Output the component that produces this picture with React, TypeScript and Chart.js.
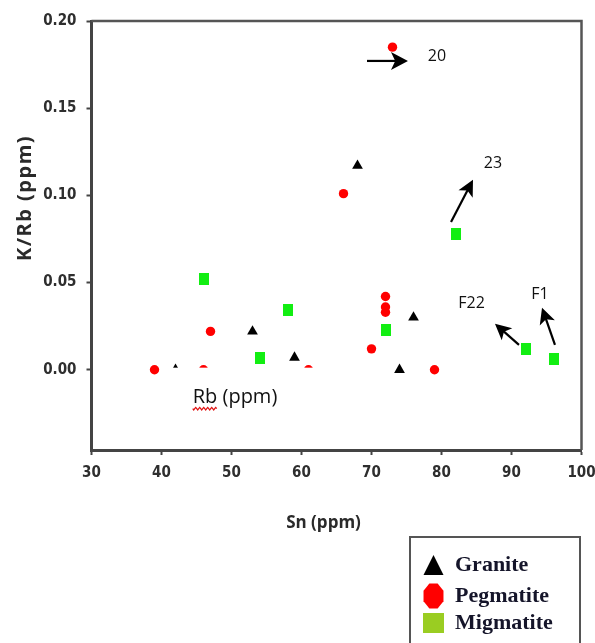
import React, { useEffect, useRef } from "react";
import { Chart, registerables } from "chart.js";

Chart.register(...registerables);

// ---- data (Sn ppm vs K/Rb) ----
const graniteSn = [42, 53, 59, 68, 74, 76];
const graniteKRb = [0.0, 0.022, 0.007, 0.117, 0.0, 0.03];

const pegmatiteSn = [39, 46, 47, 61, 66, 70, 72, 72, 72, 73, 79];
const pegmatiteKRb = [0.0, 0.0, 0.022, 0.0, 0.101, 0.012, 0.042, 0.036, 0.033, 0.185, 0.0];

const migmatiteSn = [46, 54, 58, 72, 82, 92, 96];
const migmatiteKRb = [0.052, 0.007, 0.034, 0.023, 0.078, 0.012, 0.006];

const seriesNames = ["Granite", "Pegmatite", "Migmatite"];

const xTicks = [30, 40, 50, 60, 70, 80, 90, 100];
const yTicks = [0, 0.05, 0.1, 0.15, 0.2];

// annotation labels with arrows (data units)
const noteLabels = ["20", "23", "F22", "F1"];
const noteLabelAt = [
  [79.36, 0.1794],
  [87.36, 0.1186],
  [84.29, 0.0378],
  [94.07, 0.043],
];
const noteArrowFrom = [
  [69.36, 0.1771],
  [81.36, 0.0848],
  [91.07, 0.0143],
  [96.21, 0.0143],
];
const noteArrowTo = [
  [75.21, 0.1771],
  [84.5, 0.1089],
  [87.64, 0.0264],
  [94.36, 0.0355],
];
const stray = { text: "Rb (ppm)", underlined: "Rb", at: [50.5, -0.016] };

const toPts = (xs: number[], ys: number[]) => xs.map((x, i) => ({ x, y: ys[i] }));

function makeRectStyle(w: number, h: number, color: string) {
  const c = document.createElement("canvas");
  c.width = w;
  c.height = h;
  const g = c.getContext("2d")!;
  g.fillStyle = color;
  g.fillRect(0, 0, w, h);
  return c;
}

function drawArrow(ctx: CanvasRenderingContext2D, x1: number, y1: number, x2: number, y2: number, head: number, half: number) {
  const a = Math.atan2(y2 - y1, x2 - x1);
  const cos = Math.cos(a), sin = Math.sin(a);
  ctx.beginPath();
  ctx.moveTo(x1, y1);
  ctx.lineTo(x2 - cos * head * 0.7, y2 - sin * head * 0.7);
  ctx.lineWidth = 2.2;
  ctx.strokeStyle = "#000";
  ctx.stroke();
  ctx.beginPath();
  ctx.moveTo(x2, y2);
  ctx.lineTo(x2 - cos * head - sin * half, y2 - sin * head + cos * half);
  ctx.lineTo(x2 - cos * head * 0.75, y2 - sin * head * 0.75);
  ctx.lineTo(x2 - cos * head + sin * half, y2 - sin * head - cos * half);
  ctx.closePath();
  ctx.fillStyle = "#000";
  ctx.fill();
}

const overlayPlugin = {
  id: "overlay",
  afterDatasetsDraw(chart: any) {
    const { ctx, chartArea, scales } = chart;
    const xs = scales.x, ys = scales.y;
    ctx.save();

    // text box "Rb (ppm)" with white background
    const lx = xs.getPixelForValue(stray.at[0]);
    const ly = ys.getPixelForValue(stray.at[1]);
    ctx.fillStyle = "#fff";
    ctx.fillRect(lx - 65, ly - 30, 160, 52);
    ctx.font = '20px "Open Sans", sans-serif';
    ctx.fillStyle = "#111";
    ctx.textAlign = "center";
    ctx.textBaseline = "middle";
    ctx.fillText(stray.text, lx, ly);
    const fullW = ctx.measureText(stray.text).width;
    const ulW = ctx.measureText(stray.underlined).width;
    const ux0 = lx - fullW / 2;
    ctx.beginPath();
    ctx.strokeStyle = "#e01010";
    ctx.lineWidth = 1.2;
    for (let t = 0; t <= ulW; t += 1) {
      const yy = ly + 11 + Math.sin((t / 4) * Math.PI * 2) * 1.3;
      if (t === 0) ctx.moveTo(ux0 + t, yy);
      else ctx.lineTo(ux0 + t, yy);
    }
    ctx.stroke();

    // annotations
    ctx.font = '16px "Open Sans", sans-serif';
    noteLabels.forEach((t, i) => {
      ctx.fillStyle = "#111";
      ctx.textAlign = "center";
      ctx.textBaseline = "middle";
      ctx.fillText(t, xs.getPixelForValue(noteLabelAt[i][0]), ys.getPixelForValue(noteLabelAt[i][1]));
      drawArrow(
        ctx,
        xs.getPixelForValue(noteArrowFrom[i][0]),
        ys.getPixelForValue(noteArrowFrom[i][1]),
        xs.getPixelForValue(noteArrowTo[i][0]),
        ys.getPixelForValue(noteArrowTo[i][1]),
        i === 0 ? 17 : 16,
        i === 0 ? 9 : 8
      );
    });

    // top & right frame
    ctx.beginPath();
    ctx.strokeStyle = "#555";
    ctx.lineWidth = 2.5;
    ctx.moveTo(chartArea.left, chartArea.top);
    ctx.lineTo(chartArea.right, chartArea.top);
    ctx.lineTo(chartArea.right, chartArea.bottom);
    ctx.stroke();
    ctx.restore();
  },
  afterDraw(chart: any) {
    const { ctx, chartArea } = chart;
    ctx.save();
    // axis titles
    ctx.fillStyle = "#2a2a2a";
    ctx.font = 'bold 17px "Open Sans", sans-serif';
    ctx.textAlign = "center";
    ctx.textBaseline = "middle";
    ctx.fillText("Sn (ppm)", (chartArea.left + chartArea.right) / 2 - 13, 523);
    ctx.translate(25, 198);
    ctx.rotate(-Math.PI / 2);
    ctx.font = 'bold 20px "Open Sans", sans-serif';
    (ctx as any).letterSpacing = "1.5px";
    ctx.fillText("K/Rb (ppm)", 0, 0);
    (ctx as any).letterSpacing = "0px";
    ctx.restore();

    // legend box
    ctx.save();
    ctx.strokeStyle = "#555";
    ctx.lineWidth = 2;
    ctx.strokeRect(410, 537, 170, 130);
    const rowY = [565, 596, 623];
    // triangle
    ctx.fillStyle = "#000";
    ctx.beginPath();
    ctx.moveTo(433.5, rowY[0] - 10);
    ctx.lineTo(443.5, rowY[0] + 10);
    ctx.lineTo(423.5, rowY[0] + 10);
    ctx.closePath();
    ctx.fill();
    // octagon
    ctx.fillStyle = "#ff0000";
    ctx.beginPath();
    const cx = 433.5, cy = rowY[1], rx = 10, ry = 12.5;
    for (let k = 0; k < 8; k++) {
      const a = (Math.PI / 8) + (k * Math.PI) / 4;
      const px = cx + Math.cos(a) * rx * 1.08;
      const py = cy + Math.sin(a) * ry * 1.08;
      if (k === 0) ctx.moveTo(px, py);
      else ctx.lineTo(px, py);
    }
    ctx.closePath();
    ctx.fill();
    // square
    ctx.fillStyle = "#9acd22";
    ctx.fillRect(423, rowY[2] - 10, 21, 20);
    ctx.fillStyle = "#15152a";
    ctx.font = 'bold 22px "Liberation Serif", "Times New Roman", serif';
    ctx.textAlign = "left";
    ctx.textBaseline = "middle";
    seriesNames.forEach((n, i) => ctx.fillText(n, 455, rowY[i]));
    ctx.restore();
  },
};

export default function App() {
  const ref = useRef<HTMLCanvasElement>(null);
  useEffect(() => {
    const tickFont = { family: '"DejaVu Sans Condensed", "DejaVu Sans", sans-serif', weight: "bold" as const, size: 15 };
    const chart = new Chart(ref.current!, {
      type: "scatter",
      data: {
        datasets: [
          {
            label: seriesNames[0],
            data: toPts(graniteSn, graniteKRb),
            pointStyle: "triangle",
            radius: 6.2,
            backgroundColor: "#000",
            borderColor: "#000",
            borderWidth: 0,
          },
          {
            label: seriesNames[1],
            data: toPts(pegmatiteSn, pegmatiteKRb),
            pointStyle: "circle",
            radius: 4.7,
            backgroundColor: "#ff0000",
            borderColor: "#ff0000",
            borderWidth: 0,
          },
          {
            label: seriesNames[2],
            data: toPts(migmatiteSn, migmatiteKRb),
            pointStyle: makeRectStyle(10, 12, "#12ee12") as any,
            radius: 6,
            backgroundColor: "#12ee12",
            borderWidth: 0,
          },
        ],
      },
      options: {
        responsive: false,
        animation: false,
        events: [],
        layout: { padding: { top: 21, right: 13.5, left: 0, bottom: 0 } },
        plugins: { legend: { display: false }, tooltip: { enabled: false } },
        scales: {
          x: {
            type: "linear",
            position: "bottom",
            min: 30,
            max: 100,
            afterBuildTicks: (s: any) => {
              s.ticks = xTicks.map((v) => ({ value: v }));
            },
            afterFit: (s: any) => {
              s.height = 193;
              s.paddingLeft = 0;
              s.paddingRight = 0;
            },
            ticks: {
              autoSkip: false,
              maxRotation: 0,
              padding: 9,
              color: "#2e2e2e",
              font: tickFont,
              callback: (v: any) => String(v),
            },
            grid: { drawOnChartArea: false, drawTicks: true, tickLength: 5, tickWidth: 2, tickColor: "#444" },
            border: { display: true, color: "#444", width: 3 },
          },
          y: {
            type: "linear",
            min: -0.046,
            max: 0.2,
            afterBuildTicks: (s: any) => {
              s.ticks = yTicks.map((v) => ({ value: v }));
            },
            afterFit: (s: any) => {
              s.width = 91.5;
              s.paddingTop = 0;
              s.paddingBottom = 0;
            },
            ticks: {
              autoSkip: false,
              padding: 10,
              color: "#2e2e2e",
              font: tickFont,
              callback: (v: any) => Number(v).toFixed(2),
            },
            grid: { drawOnChartArea: false, drawTicks: true, tickLength: 5, tickWidth: 2, tickColor: "#444" },
            border: { display: true, color: "#444", width: 3 },
          },
        },
      },
      plugins: [overlayPlugin],
    });
    return () => chart.destroy();
  }, []);
  return (
    <div style={{ position: "fixed", left: 0, top: 0, width: 595, height: 643, background: "#fff" }}>
      <canvas ref={ref} width={595} height={643} style={{ display: "block", width: 595, height: 643 }} />
    </div>
  );
}
